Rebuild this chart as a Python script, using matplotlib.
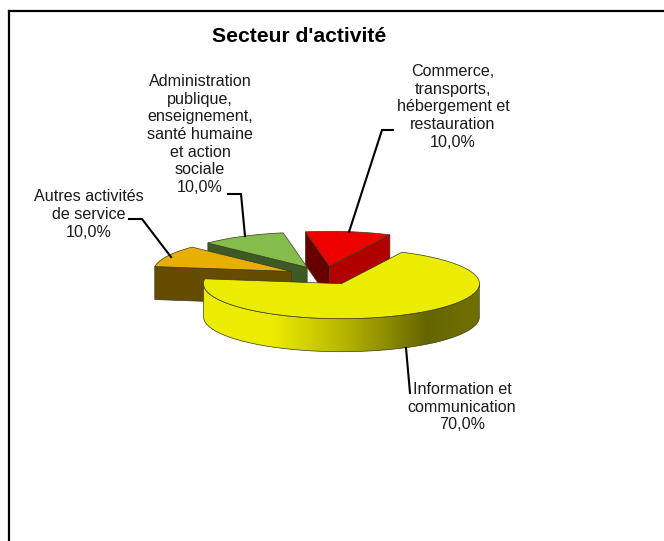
import numpy as np
import matplotlib
matplotlib.use('Agg')
import matplotlib.pyplot as plt
from matplotlib.colors import LinearSegmentedColormap
from matplotlib.patches import Polygon

plt.rcParams['font.family'] = ['Liberation Sans', 'DejaVu Sans']

title = "Secteur d'activité"
sectors = ['Information et\ncommunication',
           'Autres activités\nde service',
           'Administration\npublique,\nenseignement,\nsanté humaine\net action\nsociale',
           'Commerce,\ntransports,\nhébergement et\nrestauration']
values = [70, 10, 10, 10]
value_labels = ['70,0%', '10,0%', '10,0%', '10,0%']

top_colors = ['#ecec00', '#e8ae00', '#84bd4c', '#ee0000']
start_shades = [None, '#664c00', '#3d5a25', '#660000']
end_shades = [None, None, None, '#b00000']
label_pos = [(462, 407), (89, 214.5), (200, 134.5), (453, 107)]
leaders = [[(406, 348), (410, 393)],
           [(129, 219), (142, 219), (171, 257)],
           [(228, 194), (241, 194), (245, 236)],
           [(393, 130), (382, 130), (349, 232)]]

cx, cy = 324.3, 275.5
rx, ry = 138, 35
depth = 33
explode = 0.265
start_angle = 64


def point(ang, ox, oy):
    a = np.radians(ang)
    return ox + rx * np.cos(a), oy - ry * np.sin(a)


def arc(a1, a2, ox, oy):
    angs = np.linspace(a1, a2, 200)
    x, y = point(angs, ox, oy)
    return np.column_stack([x, y])


fig = plt.figure(figsize=(6.64, 5.41), dpi=100)
ax = fig.add_axes([0, 0, 1, 1])

# angles run clockwise from the start angle
edges = start_angle - np.cumsum([0] + values) * 3.6
edge_col = '#3a3a20'

# painter's order: back slices first, big yellow one last
z = 2
for i in [3, 2, 1, 0]:
    a_start, a_end = edges[i], edges[i + 1]
    mid = (a_start + a_end) / 2
    ox, oy = point(mid, cx, cy)
    ox = cx + explode * (ox - cx)
    oy = cy + explode * (oy - cy)
    apex = np.array([ox, oy])
    down = np.array([0, depth])

    # cut faces, only those facing the viewer
    for ang, shade, normal in [(a_start, start_shades[i], a_start + 90),
                               (a_end, end_shades[i], a_end - 90)]:
        if shade is not None and np.sin(np.radians(normal)) < 0:
            rim = np.array(point(ang, ox, oy))
            ax.add_patch(Polygon([apex, rim, rim + down, apex + down], closed=True,
                                 fc=shade, ec=edge_col, lw=0.5, zorder=z))

    # outer wall of the yellow slice with the shaded gradient
    if i == 0:
        top = arc(-180, 0, ox, oy)
        wall = Polygon(np.vstack([top, (top + down)[::-1]]), closed=True, fc='none',
                       ec=edge_col, lw=0.5, zorder=z + 0.2)
        ax.add_patch(wall)
        cmap = LinearSegmentedColormap.from_list(
            'side', [(0, '#ecec00'), (0.25, '#ecec00'), (0.5, '#b8b800'),
                     (0.81, '#666600'), (1, '#707000')])
        grad = np.linspace(0, 1, 256).reshape(1, -1)
        im = ax.imshow(grad, cmap=cmap, aspect='auto', zorder=z + 0.1,
                       extent=[ox - rx, ox + rx, oy + ry + depth + 2, oy - 2])
        im.set_clip_path(wall)

    outline = np.vstack([[apex], arc(a_start, a_end, ox, oy)])
    ax.add_patch(Polygon(outline, closed=True, fc=top_colors[i], ec=edge_col,
                         lw=0.5, zorder=z + 0.5))
    z += 1

# leader lines
for pts in leaders:
    xs, ys = zip(*pts)
    ax.plot(xs, ys, color='black', lw=1.5, solid_joinstyle='miter', zorder=10)

for name, val, (x, y) in zip(sectors, value_labels, label_pos):
    ax.text(x, y, name + '\n' + val, ha='center', va='center', fontsize=11.6,
            color='#1a1a1a', linespacing=1.22, zorder=11)

ax.text(299, 36.5, title, ha='center', va='center', fontsize=15.2,
        fontweight='bold', color='black')

# chart frame, open on the right and bottom
ax.plot([9, 9], [541, 11], color='black', lw=1.6, solid_capstyle='projecting')
ax.plot([9, 664], [11, 11], color='black', lw=1.6, solid_capstyle='projecting')

ax.set_xlim(0, 664)
ax.set_ylim(541, 0)
ax.axis('off')

fig.savefig('out.png', dpi=100)
